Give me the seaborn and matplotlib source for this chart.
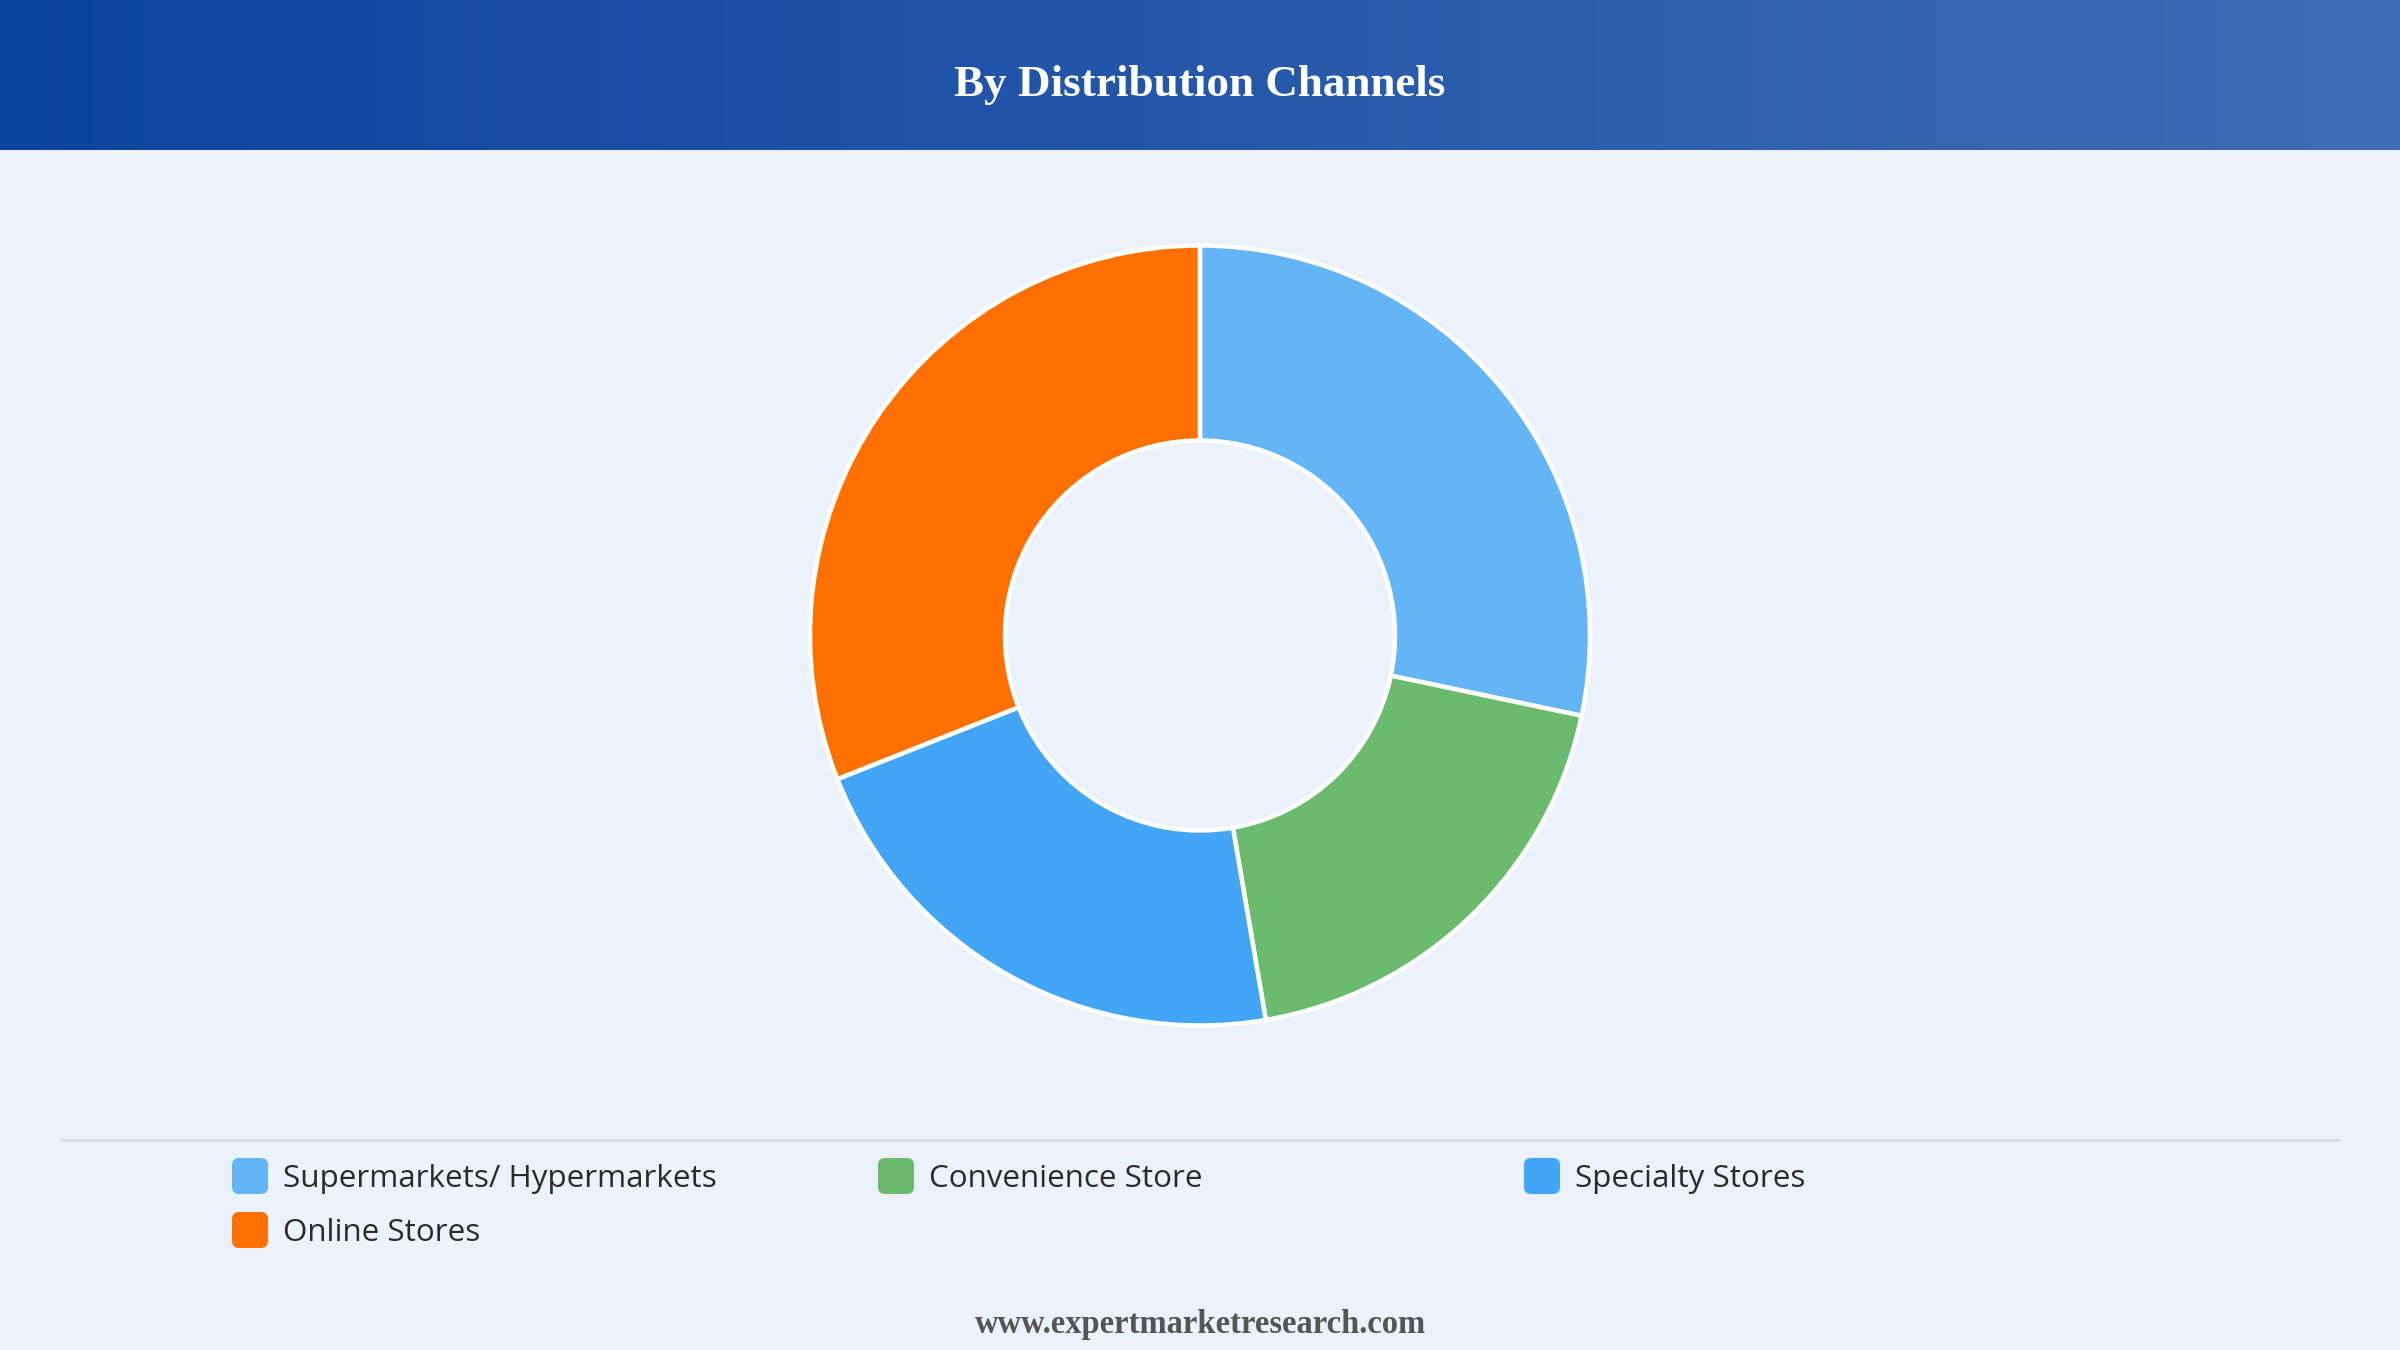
import numpy as np
import matplotlib.pyplot as plt
import seaborn as sns
from matplotlib.colors import LinearSegmentedColormap
from matplotlib.patches import FancyBboxPatch

channels = ['Supermarkets/ Hypermarkets', 'Convenience Store', 'Specialty Stores', 'Online Stores']
shares = [28.3, 19.0, 21.7, 31.0]
colors = ['#64B5F6', '#6ABB6D', '#42A5F5', '#FF7000']
title = 'By Distribution Channels'
footer = 'www.expertmarketresearch.com'

sns.set_theme(style='white')
plt.rcParams['font.family'] = ['Open Sans', 'DejaVu Sans']

W, H = 2400, 1350
bg = '#EBF2FB'
fig = plt.figure(figsize=(24, 13.5), dpi=100, facecolor=bg)

# overlay in pixel units for header, separator, legend, footer
over = fig.add_axes([0, 0, 1, 1])
over.set_xlim(0, W)
over.set_ylim(H, 0)
over.axis('off')
over.set_facecolor(bg)

grad = np.linspace(0, 1, 512).reshape(1, -1)
cmap = LinearSegmentedColormap.from_list('hdr', ['#0B44A0', '#2558AA', '#3F6DB5'])
over.imshow(grad, cmap=cmap, extent=(0, W, 150, 0), aspect='auto', zorder=1)
over.text(W / 2, 96, title, color='white', fontsize=32.5, fontweight='bold',
          family=['Liberation Serif'], ha='center', va='baseline', zorder=2)

over.plot([61, 2339], [1140, 1140], color='#D9DDE2', lw=2.2, zorder=1)

for i, (lab, col) in enumerate(zip(channels, colors)):
    r, c = divmod(i, 3)
    x = 232 + c * 646
    yc = 1176 + r * 54
    over.add_patch(FancyBboxPatch((x, yc - 18), 36, 36,
                                  boxstyle='round,pad=0,rounding_size=7',
                                  fc=col, ec='none', zorder=2))
    over.text(x + 51, 1187 + r * 54, lab, fontsize=22.6, color='#2B2B2B',
              ha='left', va='baseline', zorder=2)

over.text(W / 2, 1333, footer, color='#555555', fontsize=23.5, fontweight='bold',
          family=['Liberation Serif'], ha='center', va='baseline', zorder=2)

# donut
cx, cy, rad = 1200, 635.5, 390
lim = 1.02
half = rad * lim
ax = fig.add_axes([(cx - half) / W, (H - cy - half) / H, 2 * half / W, 2 * half / H])
ax.pie(shares, colors=colors, startangle=90, counterclock=False,
       wedgeprops=dict(width=0.5, edgecolor='white', linewidth=3.2))
ax.set_xlim(-lim, lim)
ax.set_ylim(-lim, lim)
ax.set_aspect('equal')
ax.axis('off')

fig.savefig('out.png', dpi=100, facecolor=bg)
